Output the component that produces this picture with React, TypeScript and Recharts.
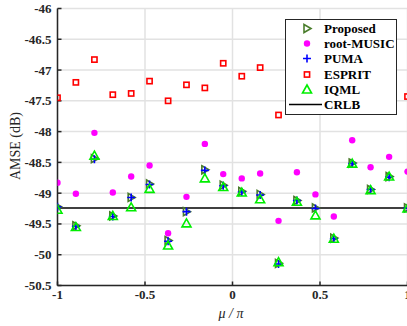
import { ScatterChart, Scatter, XAxis, YAxis, CartesianGrid, ReferenceLine } from 'recharts'

// mu / pi positions (20 points across [-1, 1])
const mu = [-1, -0.895, -0.789, -0.684, -0.579, -0.474, -0.368, -0.263, -0.158, -0.053,
  0.053, 0.158, 0.263, 0.368, 0.474, 0.579, 0.684, 0.789, 0.895, 1]

const proposed = [-49.22, -49.53, -48.44, -49.37, -49.07, -48.85, -49.77, -49.3, -48.62, -48.87,
  -48.97, -49.02, -50.14, -49.12, -49.24, -49.73, -48.51, -48.94, -48.73, -49.24]
const rootMusic = [-48.83, -49.01, -48.02, -48.99, -48.73, -48.55, -49.65, -49.06, -48.2, -48.69,
  -48.76, -48.68, -49.45, -48.66, -49.02, -49.38, -48.14, -48.58, -48.41, -48.65]
const puma = [-49.22, -49.54, -48.45, -49.38, -49.07, -48.86, -49.78, -49.3, -48.63, -48.88,
  -48.98, -49.03, -50.15, -49.12, -49.25, -49.74, -48.52, -48.94, -48.74, -49.24]
const esprit = [-47.45, -47.2, -46.83, -47.4, -47.38, -47.18, -47.5, -47.24, -47.29, -46.89,
  -47.1, -46.96, -47.73, -47.3, -47.67, -47.2, -47.0, -47.4, -47.1, -47.43]
const iqml = [-49.27, -49.55, -48.39, -49.37, -49.23, -48.93, -49.85, -49.49, -48.76, -48.9,
  -48.99, -49.1, -50.12, -49.14, -49.36, -49.74, -48.52, -48.95, -48.73, -49.25]
const crlb = -49.24

const xTicks = [-1, -0.5, 0, 0.5, 1]
const yTicks = [-46, -46.5, -47, -47.5, -48, -48.5, -49, -49.5, -50, -50.5]

const toPoints = (vals: number[]) => mu.map((x, i) => ({ x, y: vals[i] }))

const GREEN_DARK = '#4a7d2c'
const MAGENTA = '#ff00ff'
const BLUE = '#0000ff'
const RED = '#ff0000'
const GREEN = '#00ee00'
const INK = '#262626'

const serif = 'Liberation Serif'

// marker shapes
const RightTri = ({ cx, cy }: any) => (
  <path d={`M${cx - 3},${cy - 4} L${cx + 4},${cy} L${cx - 3},${cy + 4} Z`} fill="none" stroke={GREEN_DARK} strokeWidth={1.6} />
)
const Dot = ({ cx, cy }: any) => <circle cx={cx} cy={cy} r={3.2} fill={MAGENTA} />
const Plus = ({ cx, cy }: any) => (
  <path d={`M${cx - 4},${cy} H${cx + 4} M${cx},${cy - 4} V${cy + 4}`} stroke={BLUE} strokeWidth={1.6} />
)
const Square = ({ cx, cy }: any) => (
  <rect x={cx - 2.6} y={cy - 2.6} width={5.2} height={5.2} fill="none" stroke={RED} strokeWidth={1.6} />
)
const UpTri = ({ cx, cy }: any) => (
  <path d={`M${cx},${cy - 4.5} L${cx + 4.5},${cy + 3.5} L${cx - 4.5},${cy + 3.5} Z`} fill="none" stroke={GREEN} strokeWidth={1.6} />
)

// tick labels (bold serif, MATLAB style)
const XTick = ({ x, y, payload }: any) => (
  <text x={x} y={y + 15} textAnchor="middle" fontFamily={serif} fontWeight="bold" fontSize={13} fill={INK}>
    {payload.value}
  </text>
)
const YTick = ({ x, y, payload }: any) => (
  <text x={x - 1} y={y + 4.5} textAnchor="end" fontFamily={serif} fontWeight="bold" fontSize={13} fill={INK}>
    {payload.value}
  </text>
)

const YLabel = () => (
  <text x={15} y={146} transform="rotate(-90 15 146)" textAnchor="middle" dominantBaseline="central" fontFamily={serif} fontSize={14} fill={INK}>
    AMSE (dB)
  </text>
)
const XLabel = () => (
  <text x={231} y={318} textAnchor="middle" fontFamily={serif} fontStyle="italic" fontSize={14} fill={INK}>
    μ / π
  </text>
)

const legendItems = [
  { name: 'Proposed', Icon: RightTri },
  { name: 'root-MUSIC', Icon: Dot },
  { name: 'PUMA', Icon: Plus },
  { name: 'ESPRIT', Icon: Square },
  { name: 'IQML', Icon: UpTri },
]

function LegendBox() {
  return (
    <div
      style={{
        position: 'absolute',
        left: 285,
        top: 19,
        background: '#fff',
        border: '1px solid #262626',
        width: 110,
        padding: '1px 0 2px 0',
        fontFamily: serif,
        fontWeight: 'bold',
        fontSize: 13,
        lineHeight: '15px',
        color: '#000',
      }}
    >
      {legendItems.map(({ name, Icon }) => (
        <div key={name} style={{ display: 'flex', alignItems: 'center', height: 15.2 }}>
          <svg width={38} height={15} style={{ flex: 'none' }}>
            <Icon cx={21} cy={7.5} />
          </svg>
          <span>{name}</span>
        </div>
      ))}
      <div style={{ display: 'flex', alignItems: 'center', height: 15.2 }}>
        <svg width={38} height={15} style={{ flex: 'none' }}>
          <line x1={3} x2={36} y1={7.5} y2={7.5} stroke="#000" strokeWidth={1.5} />
        </svg>
        <span>CRLB</span>
      </div>
    </div>
  )
}

export default function App() {
  return (
    <div style={{ position: 'absolute', left: 0, top: 0, width: 407, height: 326, overflow: 'hidden', background: '#fff' }}>
      <ScatterChart width={420} height={326} margin={{ top: 8.5, right: 12.5, bottom: 0, left: 0 }}>
        <CartesianGrid stroke="#e2e2e2" strokeWidth={1.5} />
        <XAxis
          type="number"
          dataKey="x"
          domain={[-1, 1]}
          ticks={xTicks}
          interval={0}
          height={40.5}
          allowDataOverflow
          stroke={INK}
          strokeWidth={1.5}
          tickSize={-4}
          tick={<XTick />}
          label={<XLabel />}
        />
        <XAxis xAxisId="top" orientation="top" type="number" domain={[-1, 1]} ticks={xTicks} interval={0} height={0} stroke={INK} strokeWidth={1.5} tickSize={-4} tick={false} />
        <YAxis
          type="number"
          dataKey="y"
          domain={[-50.5, -46]}
          ticks={yTicks}
          interval={0}
          width={57.5}
          allowDataOverflow
          stroke={INK}
          strokeWidth={1.5}
          tickSize={-4}
          tickMargin={9}
          tick={<YTick />}
          label={<YLabel />}
        />
        <YAxis yAxisId="right" orientation="right" type="number" domain={[-50.5, -46]} ticks={yTicks} interval={0} width={0} stroke={INK} strokeWidth={1.5} tickSize={-4} tick={false} />
        <ReferenceLine y={crlb} stroke="#000" strokeWidth={1.5} />
        <Scatter name="Proposed" data={toPoints(proposed)} shape={RightTri} isAnimationActive={false} />
        <Scatter name="root-MUSIC" data={toPoints(rootMusic)} shape={Dot} isAnimationActive={false} />
        <Scatter name="PUMA" data={toPoints(puma)} shape={Plus} isAnimationActive={false} />
        <Scatter name="ESPRIT" data={toPoints(esprit)} shape={Square} isAnimationActive={false} />
        <Scatter name="IQML" data={toPoints(iqml)} shape={UpTri} isAnimationActive={false} />
      </ScatterChart>
      <LegendBox />
    </div>
  )
}
